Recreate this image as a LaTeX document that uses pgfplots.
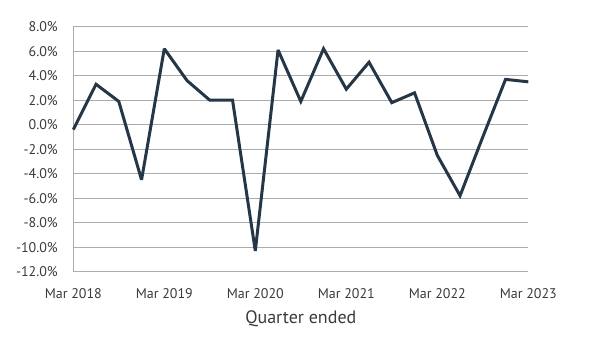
\documentclass[border=0pt]{standalone}
\usepackage{pgfplots}
\pgfplotsset{compat=1.18}
\usepackage{fontspec}
\setmainfont{PT Sans}
\definecolor{linec}{HTML}{253746}
\definecolor{gridc}{HTML}{ABABAB}
\definecolor{txt}{HTML}{3A3A3A}
\begin{document}
\begin{tikzpicture}
\useasboundingbox (0,0) rectangle (600pt,340pt);
\begin{axis}[
  at={(73.3pt,68.3pt)}, anchor=south west,
  scale only axis, width=455pt, height=245pt,
  xmin=0, xmax=20, ymin=-12, ymax=8,
  xtick={0,4,8,12,16,20},
  xticklabels={Mar 2018,Mar 2019,Mar 2020,Mar 2021,Mar 2022,Mar 2023},
  ytick={-12,-10,...,8},
  yticklabel={\pgfmathprintnumber[fixed,fixed zerofill,precision=1]{\tick}\%},
  /pgf/number format/assume math mode=true,
  ymajorgrids, grid style={gridc, line width=0.9pt},
  axis line style={draw=none},
  major tick length=0pt,
  tick label style={font=\fontsize{14}{16}\selectfont, text=txt},
  yticklabel style={anchor=east, xshift=-12pt},
  xticklabel style={anchor=center, yshift=-21.5pt},
  xlabel={Quarter ended},
  xlabel style={font=\fontsize{18}{20}\selectfont, text=txt, at={(axis description cs:0.5,0)}, anchor=center, yshift=-47pt},
  clip=false,
]
\draw[gridc, line width=0.9pt] (rel axis cs:0,0) -- (rel axis cs:0,1);
\addplot[linec, line width=3pt, line join=miter, miter limit=2.5, mark=none] coordinates {
(0,-0.4) (1,3.3) (2,1.9) (3,-4.5) (4,6.2) (5,3.6) (6,2.0) (7,2.0)
(8,-10.3) (9,6.1) (10,1.9) (11,6.2) (12,2.9) (13,5.1) (14,1.8) (15,2.6)
(16,-2.5) (17,-5.8) (18,-1.0) (19,3.7) (20,3.5)
};
\end{axis}
\end{tikzpicture}
\end{document}
